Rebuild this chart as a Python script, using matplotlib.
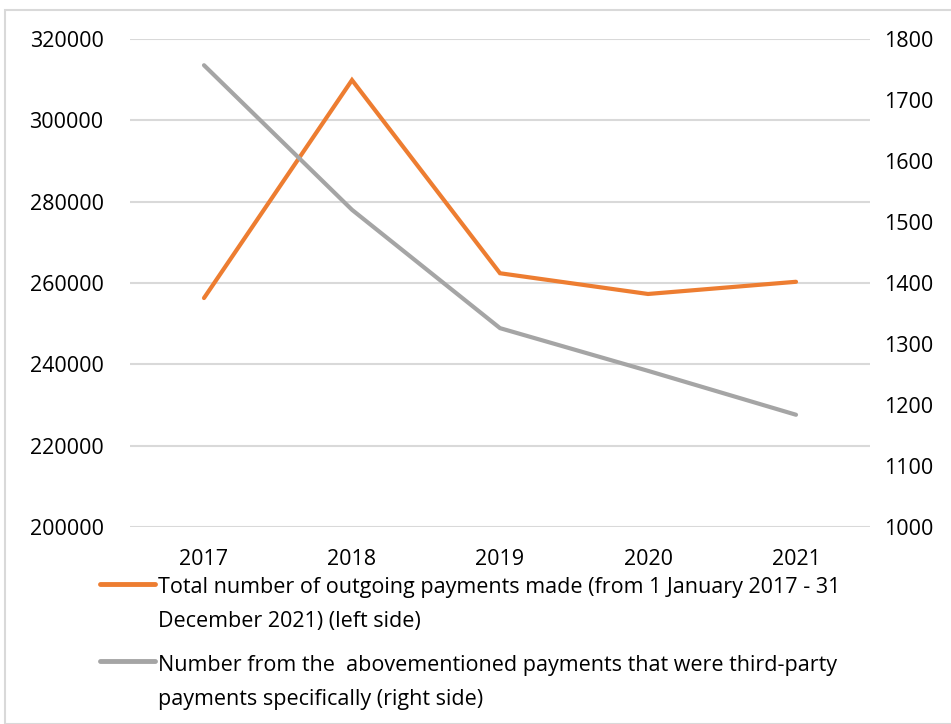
import matplotlib.pyplot as plt
from matplotlib.lines import Line2D
from matplotlib.patches import Rectangle

# data
years = ["2017", "2018", "2019", "2020", "2021"]
total_payments = [256300, 309900, 262400, 257300, 260300]
third_party = [1757, 1520, 1326, 1256, 1184]

left_ticks = [200000, 220000, 240000, 260000, 280000, 300000, 320000]
right_ticks = [1000, 1100, 1200, 1300, 1400, 1500, 1600, 1700, 1800]

label_total = "Total number of outgoing payments made (from 1 January 2017 - 31\nDecember 2021) (left side)"
label_third = "Number from the  abovementioned payments that were third-party\npayments specifically (right side)"

ORANGE = "#ED7D31"
GREY = "#A5A5A5"
GRID = "#D9D9D9"
TEXT = "#000000"
FS = 15.5

plt.rcParams["font.family"] = ["Open Sans", "DejaVu Sans"]

fig = plt.figure(figsize=(9.51, 7.24), dpi=100)
fig.patch.set_facecolor("white")
fig.add_artist(Rectangle((5 / 951, 0), 1, 1 - 10 / 724, transform=fig.transFigure,
                         fill=False, edgecolor=GRID, linewidth=1.5))

ax = fig.add_axes([130 / 951, 1 - 527 / 724, 740 / 951, 488 / 724])
ax2 = ax.twinx()

x = list(range(len(years)))
ax.plot(x, total_payments, color=ORANGE, linewidth=3, solid_capstyle="round",
        solid_joinstyle="miter", zorder=3)
ax2.plot(x, third_party, color=GREY, linewidth=3, solid_capstyle="round",
         solid_joinstyle="miter", zorder=3)

ax.set_xlim(-0.5, len(years) - 0.5)
ax.set_ylim(200000, 320000)
ax2.set_ylim(1000, 1800)
ax.set_yticks(left_ticks)
ax2.set_yticks(right_ticks)
ax.set_yticklabels([str(v) for v in left_ticks])
ax2.set_yticklabels([str(v) for v in right_ticks])
ax.set_xticks(x)
ax.set_xticklabels(years)

for a in (ax, ax2):
    for s in a.spines.values():
        s.set_visible(False)
    a.tick_params(length=0, labelsize=FS, colors=TEXT)
ax.tick_params(axis="y", pad=19)
ax2.tick_params(axis="y", pad=10)
ax.tick_params(axis="x", pad=16)

ax.grid(axis="y", color=GRID, linewidth=1.5)
ax.set_axisbelow(True)
ax2.set_zorder(ax.get_zorder() + 1)
ax2.patch.set_visible(False)

# legend drawn by hand so the key sits on the first text line
entries = [(ORANGE, label_total, 584), (GREY, label_third, 661)]
for color, text, ypix in entries:
    yf = 1 - ypix / 724
    fig.add_artist(Line2D([100 / 951, 155 / 951], [yf, yf], transform=fig.transFigure,
                          color=color, linewidth=3.5, solid_capstyle="round"))
    for i, line in enumerate(text.split("\n")):
        fig.text(158 / 951, 1 - (ypix + 4 + i * 34) / 724, line, ha="left",
                 va="center", fontsize=FS, color=TEXT)

fig.savefig("out.png", dpi=100)
